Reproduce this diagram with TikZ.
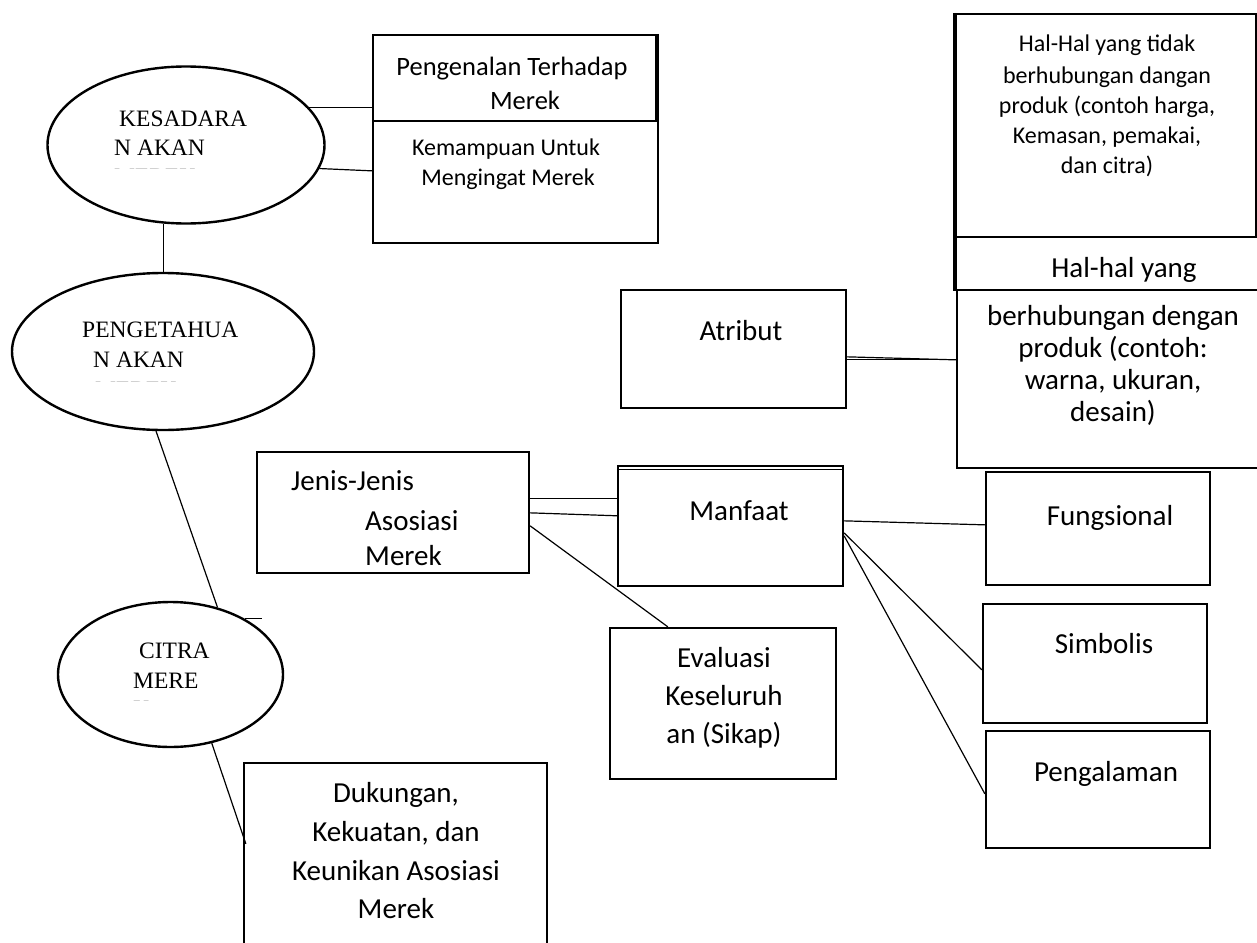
\documentclass[tikz,border=0pt]{standalone}
\usepackage{fontspec}
\setmainfont{Carlito}
\newfontfamily\ovalfont{Liberation Serif}
\usetikzlibrary{shapes.geometric,calc}

\tikzset{
  box/.style={draw, rectangle, line width=2.3pt, inner sep=0pt},
  oval/.style={draw, ellipse, line width=2.4pt, inner sep=0pt},
  link/.style={line width=1.2pt},
  lbl/.style={inner sep=0pt, anchor=base, font=\fontsize{29}{29}\selectfont},
  lblsmall/.style={inner sep=0pt, anchor=base, font=\fontsize{24}{24}\selectfont},
  ovtxt/.style={inner sep=0pt, anchor=base west, font=\ovalfont\fontsize{23.5}{23.5}\selectfont},
}

% box from its left, top, right and bottom edges
\newcommand\placebox[5]{%
  \node[box, minimum width={(#4-#2)*1pt}, minimum height={(#5-#3)*1pt}]
    (#1) at ({(#2+#4)/2},{(#3+#5)/2}) {};}

\begin{document}
\begin{tikzpicture}[x=1pt,y=-1pt]
\clip (0,0) rectangle (1257,942);
\fill[white] (0,0) rectangle (1257,942);

% ---- ovals on the left
\node[oval, minimum width=277pt, minimum height=157pt] (e1) at (186,145) {};
\node[oval, minimum width=302pt, minimum height=157pt] (e2) at (163,351.5) {};
\node[oval, minimum width=225pt, minimum height=145pt] (e3) at (170.5,674.5) {};

\node[ovtxt] (e1a) at (119,126) {KESADARA};
\node[ovtxt] (e1b) at (114,155) {N AKAN};
\begin{scope}
  \clip (100,167) rectangle (230,168.6);
  \node[ovtxt, text=black!45] (e1c) at (114,184) {MEREK};
\end{scope}

\node[ovtxt] (e2a) at (82,337) {PENGETAHUA};
\node[ovtxt] (e2b) at (93,367) {N AKAN};
\begin{scope}
  \clip (80,380) rectangle (200,381.6);
  \node[ovtxt, text=black!45] (e2c) at (95,397) {MEREK};
\end{scope}

\node[ovtxt] (e3a) at (139,658) {CITRA};
\node[ovtxt] (e3b) at (133,688) {MERE};
\begin{scope}
  \clip (120,699) rectangle (170,700.6);
  \node[ovtxt, text=black!45] (e3c) at (133,716) {K};
\end{scope}

% ---- boxes
\placebox{pengenalan}{373}{35}{656}{121}
\placebox{kemampuan}{373}{121}{658}{243}
\placebox{haltidak}{956}{14}{1256}{237}
\placebox{halyang}{956}{237}{1264}{290}
\placebox{berhub}{957}{290}{1264}{468}
\placebox{atribut}{621}{290}{846}{408}
\placebox{jenis}{257}{452}{529}{573}
\placebox{manfaat}{618}{466}{843}{586}
\placebox{fungsional}{986}{472}{1210}{585}
\placebox{simbolis}{983}{604}{1207}{723}
\placebox{pengalaman}{986}{731}{1210}{848}
\placebox{evaluasi}{610}{628}{836}{779}
\placebox{dukungan}{244}{763}{547}{950}

% heavier edges and doubled lines
\draw[line width=4pt] (pengenalan.north east) -- (pengenalan.south east);
\draw[line width=3pt] (haltidak.north west) -- (halyang.south west);
\draw[line width=1.2pt] ($(manfaat.north west)+(0,5)$) -- ($(manfaat.north east)+(0,5)$);

% ---- box texts
\node[lbl, font=\fontsize{26.5}{26.5}\selectfont] (t1a) at (512,75) {Pengenalan Terhadap};
\node[lbl, font=\fontsize{26.5}{26.5}\selectfont] (t1b) at (525,109) {Merek};

\node[lblsmall] (t2a) at (506,155) {Kemampuan Untuk};
\node[lblsmall] (t2b) at (508,185) {Mengingat Merek};

\node[lblsmall] (t3a) at (1107,52) {Hal-Hal yang tidak};
\node[lblsmall] (t3b) at (1107,83) {berhubungan dangan};
\node[lblsmall] (t3c) at (1107,113) {produk (contoh harga,};
\node[lblsmall] (t3d) at (1107,143) {Kemasan, pemakai,};
\node[lblsmall] (t3e) at (1107,173) {dan citra)};

\node[lbl] (t4) at (1124,277) {Hal-hal yang};

\node[lbl] (t5a) at (1113,325) {berhubungan dengan};
\node[lbl] (t5b) at (1113,357) {produk (contoh:};
\node[lbl] (t5c) at (1113,389) {warna, ukuran,};
\node[lbl] (t5d) at (1113,421) {desain)};

\node[lbl] (t6) at (741,340) {Atribut};

\node[lbl, anchor=base west] (t7a) at (291,490) {Jenis-Jenis};
\node[lbl, anchor=base west] (t7b) at (365,530) {Asosiasi};
\node[lbl, anchor=base west] (t7c) at (365,565) {Merek};

\node[lbl] (t8) at (739,520) {Manfaat};
\node[lbl] (t9) at (1110,525) {Fungsional};
\node[lbl] (t10) at (1104,653) {Simbolis};
\node[lbl] (t11) at (1106,781) {Pengalaman};

\node[lbl] (t12a) at (724,667) {Evaluasi};
\node[lbl] (t12b) at (724,705) {Keseluruh};
\node[lbl] (t12c) at (724,743) {an (Sikap)};

\node[lbl] (t13a) at (396,802) {Dukungan,};
\node[lbl] (t13b) at (396,841) {Kekuatan, dan};
\node[lbl] (t13c) at (396,880) {Keunikan Asosiasi};
\node[lbl] (t13d) at (396,918) {Merek};

% ---- connectors
\draw[link] (e1.17) -- (pengenalan.west |- e1.17);
\draw[link] (e1.-10) -- ($(kemampuan.north west)+(0,51)$);
\draw[link] (e1.254) -- (e1.254 |- e2.north);
\draw[link] (e2.-95) -- (e3.55);
\coordinate (tickend) at ($(e3.37)+(17,0)$);
\draw[link] (e3.37) -- (tickend);
\draw[link] (e3.-59) -- ($(dukungan.north west)+(3,82)$);

\draw[link] ($(jenis.north east)+(0,48)$) -- ($(manfaat.north west)+(0,34)$);
\draw[link] ($(jenis.north east)+(0,62)$) -- ($(manfaat.north west)+(2,51)$);
\draw[link] ($(jenis.north east)+(0,75)$) -- ($(evaluasi.north west)+(59,0)$);

\draw[link] ($(atribut.north east)+(0,68)$) -- ($(berhub.north west)+(0,71)$);
\draw[link] ($(atribut.north east)+(0,71)$) -- ($(berhub.north west)+(0,71)$);

\draw[link] ($(manfaat.north east)+(0,56)$) -- ($(fungsional.north west)+(0,54)$);
\draw[link] ($(manfaat.north east)+(0,68)$) -- ($(simbolis.north west)+(0,67)$);
\draw[link] ($(manfaat.north east)+(0,71)$) -- ($(pengalaman.north west)+(0,64)$);
\end{tikzpicture}
\end{document}
